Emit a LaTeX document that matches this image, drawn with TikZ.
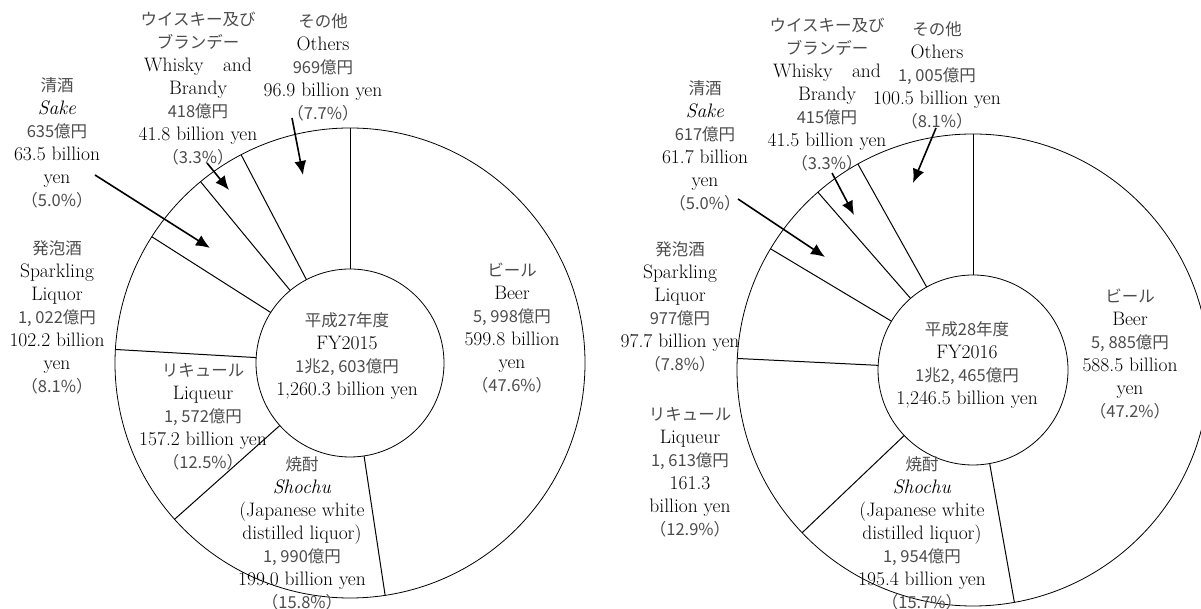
\documentclass[tikz,border=0pt]{standalone}
\usepackage{fontspec}
\newfontfamily\jp{Noto Sans CJK JP}
\usetikzlibrary{arrows.meta}
\newcommand\jtx[1]{{\jp\fontsize{16.5}{23}\selectfont\color{black!70}#1}}

\begin{document}
\begin{tikzpicture}[x=1pt,y=1pt,
  lbl/.style={align=center,inner sep=0pt,font=\fontsize{19.5}{23}\selectfont},
  ring/.style={line width=0.8pt},
  cut/.style={line width=1pt},
  pointer/.style={-{Latex[length=14pt,width=12pt]},line width=1.6pt}]
\useasboundingbox (0,0) rectangle (1201,609);

% FY2015
\coordinate (cA) at (350,246);
\draw[ring] (cA) circle (235);
\draw[ring] (cA) circle (94);
\foreach \a in {90,-81.4,-138.3,176.7,147.5,129.5,117.6}
  \draw[cut] (cA) ++(\a:94) -- ++(\a:141);

\node[lbl] (ctrA) at (347,252.5) {\jtx{平成27年度}\\FY2015\\\jtx{1兆2, 603億円}\\1,260.3 billion yen};
\node[lbl] (beerA) at (512,281) {\jtx{ビール}\\Beer\\\jtx{5, 998億円}\\599.8 billion\\yen\\\jtx{（47.6\%）}};
\node[lbl] (shochuA) at (302,76) {\jtx{焼酎}\\\textit{Shochu}\\(Japanese white\\distilled liquor)\\\jtx{1, 990億円}\\199.0 billion yen\\\jtx{（15.8\%）}};
\node[lbl] (liqA) at (203,192.5) {\jtx{リキュール}\\Liqueur\\\jtx{1, 572億円}\\157.2 billion yen\\\jtx{（12.5\%）}};
\node[lbl] (sparkA) at (57,291.5) {\jtx{発泡酒}\\Sparkling\\Liquor\\\jtx{1, 022億円}\\102.2 billion\\yen\\\jtx{（8.1\%）}};
\node[lbl] (sakeA) at (57,466.5) {\jtx{清酒}\\\textit{Sake}\\\jtx{635億円}\\63.5 billion\\yen\\\jtx{（5.0\%）}};
\node[lbl] (whiskyA) at (198,520.5) {\jtx{ウイスキー及び}\\\jtx{ブランデー}\\Whisky\quad and\\Brandy\\\jtx{418億円}\\41.8 billion yen\\\jtx{（3.3\%）}};
\node[lbl] (othersA) at (323,542) {\jtx{その他}\\Others\\\jtx{969億円}\\96.9 billion yen\\\jtx{（7.7\%）}};

\coordinate (sakeA-from) at (95,434);
\coordinate (sakeA-to) at (210,361);
\coordinate (whiskyA-from) at (207,446);
\coordinate (whiskyA-to) at (229,419);
\coordinate (othersA-from) at (292,491);
\coordinate (othersA-to) at (303,434);
\draw[pointer] (sakeA-from) -- (sakeA-to);
\draw[pointer] (whiskyA-from) -- (whiskyA-to);
\draw[pointer] (othersA-from) -- (othersA-to);

% FY2016
\coordinate (cB) at (973,239);
\draw[ring] (cB) circle (236);
\draw[ring] (cB) circle (95);
\foreach \a in {90,-79.9,-136.4,177.2,149.1,131.1,119.2}
  \draw[cut] (cB) ++(\a:95) -- ++(\a:141);

\node[lbl] (ctrB) at (967,244) {\jtx{平成28年度}\\FY2016\\\jtx{1兆2, 465億円}\\1,246.5 billion yen};
\node[lbl] (beerB) at (1130,255) {\jtx{ビール}\\Beer\\\jtx{5, 885億円}\\588.5 billion\\yen\\\jtx{（47.2\%）}};
\node[lbl] (shochuB) at (922,76) {\jtx{焼酎}\\\textit{Shochu}\\(Japanese white\\distilled liquor)\\\jtx{1, 954億円}\\195.4 billion yen\\\jtx{（15.7\%）}};
\node[lbl] (liqB) at (690,136.5) {\jtx{リキュール}\\Liqueur\\\jtx{1, 613億円}\\161.3\\billion yen\\\jtx{（12.9\%）}};
\node[lbl] (sparkB) at (680,302.5) {\jtx{発泡酒}\\Sparkling\\Liquor\\\jtx{977億円}\\97.7 billion yen\\\jtx{（7.8\%）}};
\node[lbl] (sakeB) at (705,463) {\jtx{清酒}\\\textit{Sake}\\\jtx{617億円}\\61.7 billion\\yen\\\jtx{（5.0\%）}};
\node[lbl] (whiskyB) at (827,514.5) {\jtx{ウイスキー及び}\\\jtx{ブランデー}\\Whisky\quad and\\Brandy\\\jtx{415億円}\\41.5 billion yen\\\jtx{（3.3\%）}};
\node[lbl] (othersB) at (937,534) {\jtx{その他}\\Others\\\jtx{1, 005億円}\\100.5 billion yen\\\jtx{（8.1\%）}};

\coordinate (sakeB-from) at (738,410);
\coordinate (sakeB-to) at (825,352);
\coordinate (whiskyB-from) at (832,436);
\coordinate (whiskyB-to) at (854,394);
\coordinate (othersB-from) at (936,481);
\coordinate (othersB-to) at (913,426);
\draw[pointer] (sakeB-from) -- (sakeB-to);
\draw[pointer] (whiskyB-from) -- (whiskyB-to);
\draw[pointer] (othersB-from) -- (othersB-to);
\end{tikzpicture}
\end{document}
